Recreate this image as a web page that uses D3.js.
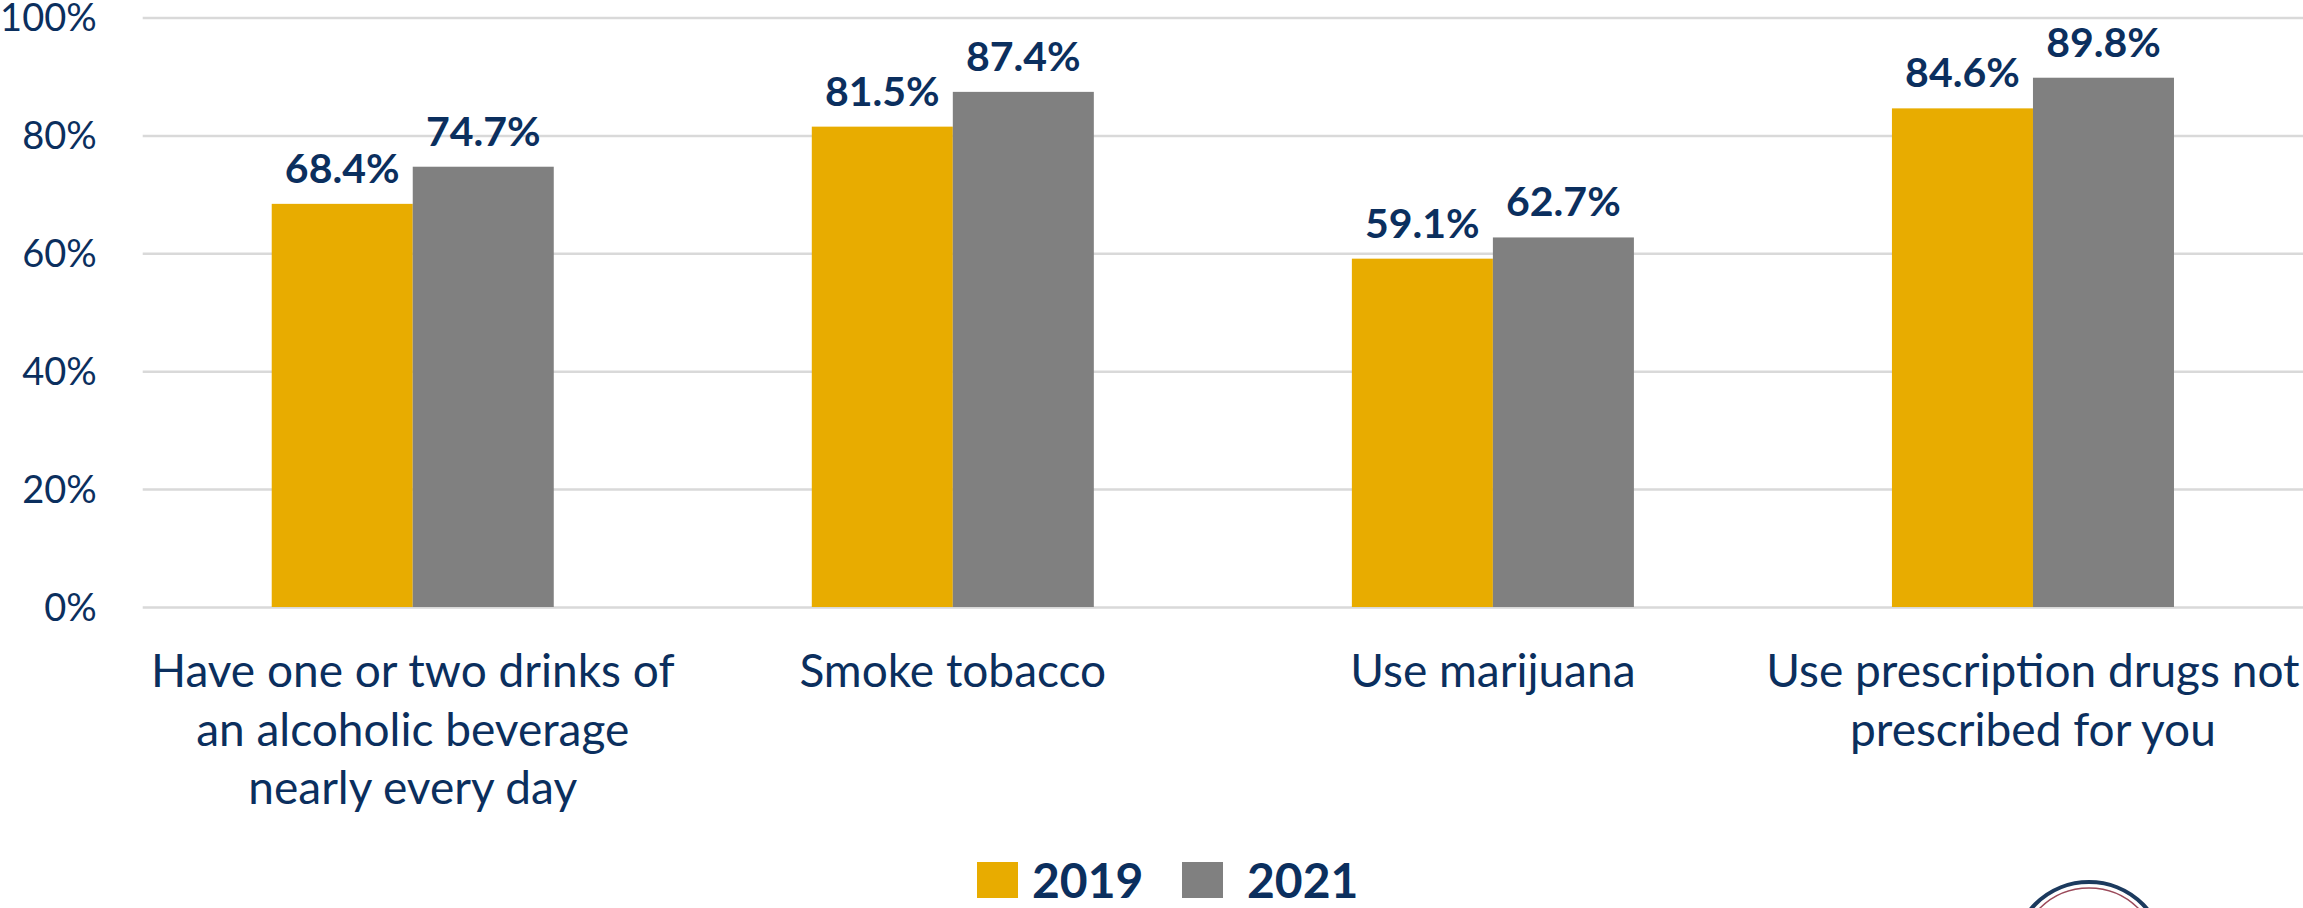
<!DOCTYPE html>
<html>
<head>
<meta charset="utf-8">
<script src="https://cdn.jsdelivr.net/npm/d3@7"></script>
<style>
  html, body { margin: 0; padding: 0; background: #ffffff; overflow: hidden; }
  svg { display: block; }
</style>
</head>
<body>
<svg id="chart" width="2303" height="908"></svg>
<script>
// ---- Data ----
const categories = [
  "Have one or two drinks of\nan alcoholic beverage\nnearly every day",
  "Smoke tobacco",
  "Use marijuana",
  "Use prescription drugs not\nprescribed for you"
];
const seriesNames = ["2019", "2021"];
const values2019 = [68.4, 81.5, 59.1, 84.6];
const values2021 = [74.7, 87.4, 62.7, 89.8];
const yTicks = [0, 20, 40, 60, 80, 100];
const colors = ["#E8AC00", "#808080"];

// ---- Layout ----
const W = 2303, H = 908;
const navy = "#0B2F5E";
const fontFamily = "Lato, 'Open Sans', sans-serif";
const plot = { left: 142.7, right: 2303, top: 17.6, bottom: 607 };

const svg = d3.select("#chart");

const x = d3.scaleBand().domain(categories).range([plot.left, plot.right]).paddingInner(0).paddingOuter(0);
const groupWidth = 282 / 540;
const xInner = d3.scaleBand().domain(seriesNames)
  .range([x.bandwidth() * (1 - groupWidth) / 2, x.bandwidth() * (1 + groupWidth) / 2]);
const y = d3.scaleLinear().domain([0, 100]).range([plot.bottom, plot.top]);

// Gridlines
const yAxis = d3.axisLeft(y).tickValues(yTicks).tickSize(-(plot.right - plot.left)).tickFormat(d => d + "%");
const gy = svg.append("g").attr("transform", `translate(${plot.left},0)`).call(yAxis);
gy.select(".domain").remove();
gy.selectAll(".tick line").attr("stroke", "#D9D9D9").attr("stroke-width", 2.5);
gy.selectAll(".tick text")
  .attr("x", -46)
  .attr("fill", navy)
  .attr("font-family", fontFamily)
  .attr("font-size", 38)
  .attr("text-anchor", "end")
  .attr("dy", "0.35em");

// Bars
const rows = categories.map((c, i) => ({ cat: c, vals: [values2019[i], values2021[i]] }));
const groups = svg.append("g").selectAll("g").data(rows).join("g")
  .attr("transform", d => `translate(${x(d.cat)},0)`);

groups.selectAll("rect").data(d => d.vals.map((v, j) => ({ key: seriesNames[j], v, j })))
  .join("rect")
  .attr("x", d => xInner(d.key))
  .attr("width", xInner.bandwidth())
  .attr("y", d => y(d.v))
  .attr("height", d => y(0) - y(d.v))
  .attr("fill", d => colors[d.j]);

groups.selectAll("text.val").data(d => d.vals.map((v, j) => ({ key: seriesNames[j], v, j })))
  .join("text")
  .attr("class", "val")
  .attr("x", d => xInner(d.key) + xInner.bandwidth() / 2)
  .attr("y", d => y(d.v) - 21)
  .attr("text-anchor", "middle")
  .attr("fill", navy)
  .attr("font-family", fontFamily)
  .attr("font-weight", "bold")
  .attr("font-size", 41)
  .text(d => d.v.toFixed(1) + "%");

// Category labels
const catG = svg.append("g");
categories.forEach(c => {
  const lines = c.split("\n");
  const t = catG.append("text")
    .attr("text-anchor", "middle")
    .attr("fill", navy)
    .attr("font-family", fontFamily)
    .attr("font-size", 46);
  lines.forEach((ln, k) => {
    t.append("tspan")
      .attr("x", x(c) + x.bandwidth() / 2)
      .attr("y", 687 + k * 58.7)
      .text(ln);
  });
});

// Legend
const legend = svg.append("g");
const legendItems = [
  { name: seriesNames[0], color: colors[0], sx: 977, tx: 1032 },
  { name: seriesNames[1], color: colors[1], sx: 1182, tx: 1247 }
];
legendItems.forEach(it => {
  legend.append("rect").attr("x", it.sx).attr("y", 862).attr("width", 41).attr("height", 36).attr("fill", it.color);
  legend.append("text").attr("x", it.tx).attr("y", 898)
    .attr("fill", navy).attr("font-family", fontFamily).attr("font-weight", "bold").attr("font-size", 48)
    .text(it.name);
});

// Partial seal (decorative) at bottom right
const seal = svg.append("g");
seal.append("circle").attr("cx", 2089).attr("cy", 958).attr("r", 76)
  .attr("fill", "#ffffff").attr("stroke", "#1C3A5E").attr("stroke-width", 4);
seal.append("circle").attr("cx", 2089).attr("cy", 958).attr("r", 70)
  .attr("fill", "none").attr("stroke", "#9B4A5A").attr("stroke-width", 1.5);
</script>
</body>
</html>
